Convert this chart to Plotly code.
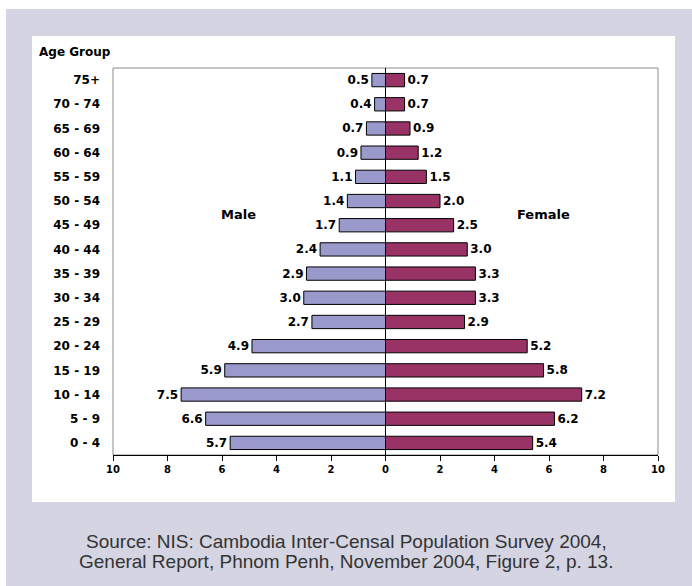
import plotly.graph_objects as go

age_groups = ["0 - 4", "5 - 9", "10 - 14", "15 - 19", "20 - 24", "25 - 29", "30 - 34",
              "35 - 39", "40 - 44", "45 - 49", "50 - 54", "55 - 59", "60 - 64",
              "65 - 69", "70 - 74", "75+"]
male = [5.7, 6.6, 7.5, 5.9, 4.9, 2.7, 3.0, 2.9, 2.4, 1.7, 1.4, 1.1, 0.9, 0.7, 0.4, 0.5]
female = [5.4, 6.2, 7.2, 5.8, 5.2, 2.9, 3.3, 3.3, 3.0, 2.5, 2.0, 1.5, 1.2, 0.9, 0.7, 0.7]
x_ticks = [-10, -8, -6, -4, -2, 0, 2, 4, 6, 8, 10]
x_tick_text = ["10", "8", "6", "4", "2", "0", "2", "4", "6", "8", "10"]
source_lines = ["Source: NIS: Cambodia Inter-Censal Population Survey 2004,",
                "General Report, Phnom Penh, November 2004, Figure 2, p. 13."]

W, H = 692, 586
L, R, T, B = 113, 658, 68, 455


def px(x):
    return (x - L) / (R - L)


def py(y):
    return (B - y) / (B - T)


BOLD = "DejaVu Sans"

fig = go.Figure()
fig.add_trace(go.Bar(
    y=age_groups, x=[-v for v in male], orientation="h", name="Male",
    marker=dict(color="#9999CC", line=dict(color="black", width=1)),
    text=[f"{v:.1f}" for v in male], textposition="outside",
    textfont=dict(family=BOLD, size=12, color="black", weight="bold"),
    constraintext="none", cliponaxis=False, showlegend=False,
))
fig.add_trace(go.Bar(
    y=age_groups, x=female, orientation="h", name="Female",
    marker=dict(color="#993366", line=dict(color="black", width=1)),
    text=[f"{v:.1f}" for v in female], textposition="outside",
    textfont=dict(family=BOLD, size=12, color="black", weight="bold"),
    constraintext="none", cliponaxis=False, showlegend=False,
))

shapes = [
    dict(type="rect", xref="paper", yref="paper", x0=px(6), x1=px(692), y0=py(9), y1=py(586),
         fillcolor="#D4D4E2", line=dict(width=0), layer="below"),
    dict(type="rect", xref="paper", yref="paper", x0=px(32), x1=px(675), y0=py(36), y1=py(502),
         fillcolor="white", line=dict(width=0), layer="below"),
    dict(type="rect", xref="paper", yref="paper", x0=0, x1=1, y0=0, y1=1,
         fillcolor="rgba(0,0,0,0)", line=dict(color="#8a8a8a", width=1), layer="below"),
]

annotations = [
    dict(text="Age Group", xref="paper", yref="paper", x=px(37), y=py(52),
         xanchor="left", yanchor="middle", showarrow=False,
         font=dict(family=BOLD, size=12, color="black", weight="bold")),
    dict(text="Male", xref="x", yref="y", x=-5.4, y=9.45, showarrow=False,
         font=dict(family=BOLD, size=13, color="black", weight="bold")),
    dict(text="Female", xref="x", yref="y", x=5.8, y=9.45, showarrow=False,
         font=dict(family=BOLD, size=13, color="black", weight="bold")),
]
for i, line in enumerate(source_lines):
    annotations.append(dict(
        text=line, xref="paper", yref="paper", x=px(346), y=py(541 + 20 * i),
        xanchor="center", yanchor="middle", showarrow=False,
        font=dict(family="Liberation Sans, Arial", size=19, color="#333333")))

fig.update_layout(
    width=W, height=H,
    margin=dict(l=L, r=W - R, t=T, b=H - B, pad=0),
    paper_bgcolor="white", plot_bgcolor="rgba(0,0,0,0)",
    barmode="overlay", bargap=0.45,
    shapes=shapes, annotations=annotations,
    xaxis=dict(range=[-10, 10], tickvals=x_ticks, ticktext=x_tick_text,
               showgrid=False, zeroline=True, zerolinecolor="black", zerolinewidth=1,
               showline=True, linecolor="black", linewidth=1,
               ticks="outside", ticklen=5, tickcolor="black",
               tickfont=dict(family=BOLD, size=10, color="black", weight="bold"),
               fixedrange=True),
    yaxis=dict(type="category", categoryorder="array", categoryarray=age_groups,
               range=[-0.5, 15.5], showgrid=False, zeroline=False, showline=False,
               ticks="", ticklabelstandoff=12,
               tickfont=dict(family=BOLD, size=12, color="black", weight="bold"),
               fixedrange=True),
)

fig.write_html("out.html")
